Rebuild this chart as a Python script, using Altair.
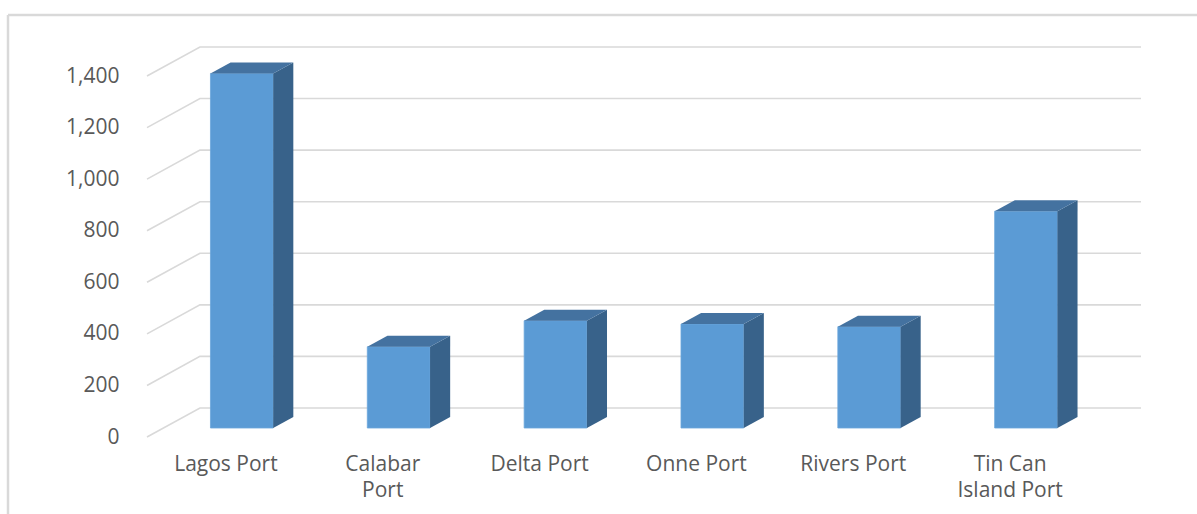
import json
import altair as alt
import pandas as pd

# ---------------- data ----------------
categories = ["Lagos Port", "Calabar Port", "Delta Port", "Onne Port", "Rivers Port", "Tin Can Island Port"]
label_lines = [["Lagos Port"], ["Calabar", "Port"], ["Delta Port"], ["Onne Port"], ["Rivers Port"], ["Tin Can", "Island Port"]]
values = [1375, 315, 416, 403, 393, 841]
y_ticks = [0, 200, 400, 600, 800, 1000, 1200, 1400]

# ---------------- 3D geometry (style constants) ----------------
N = len(categories)
DEPTH_X = 0.3376      # floor depth, in category units
DEPTH_Y = 112.5       # floor depth, in value units
BAR_W = 0.40          # bar width, share of a category band
T0, T1 = 0.31, 0.69   # front/back of the bar as share of floor depth
XMAX = N + DEPTH_X
YMAX = y_ticks[-1] + DEPTH_Y

FRONT = "#5b9bd5"
TOP = "#4472a0"
SIDE = "#38628a"
GRID = "#d9d9d9"
TEXT = "#595959"
FONT = "Open Sans"
FSIZE = 21

# ---------------- tables built from the arrays ----------------
ox0, oy0 = T0 * DEPTH_X, T0 * DEPTH_Y
ox1, oy1 = T1 * DEPTH_X, T1 * DEPTH_Y
ddx = ox1 - ox0

front_rows, side_rows, top_rows = [], [], []
for i, (c, v) in enumerate(zip(categories, values)):
    xl = i + 0.5 - BAR_W / 2 + ox0
    xr = i + 0.5 + BAR_W / 2 + ox0
    front_rows.append({"cat": c, "x": xl, "x2": xr, "y": oy0, "y2": v + oy0})
    side_rows += [
        {"cat": c, "x": xr, "y": v + oy0, "y2": oy0},
        {"cat": c, "x": xr + ddx, "y": v + oy1, "y2": oy1},
    ]
    top_rows += [
        {"cat": c, "x": xl, "y": v + oy0, "y2": v + oy0},
        {"cat": c, "x": xl + ddx, "y": v + oy1, "y2": v + oy0},
        {"cat": c, "x": xr, "y": v + oy1, "y2": v + oy0},
        {"cat": c, "x": xr + ddx, "y": v + oy1, "y2": v + oy1},
    ]

grid_rows = []
for t in y_ticks:
    grid_rows += [
        {"tick": t, "o": 0, "x": 0, "y": t},
        {"tick": t, "o": 1, "x": DEPTH_X, "y": t + DEPTH_Y},
        {"tick": t, "o": 2, "x": XMAX, "y": t + DEPTH_Y},
    ]

front_df = pd.DataFrame(front_rows)
side_df = pd.DataFrame(side_rows)
top_df = pd.DataFrame(top_rows)
grid_df = pd.DataFrame(grid_rows)

xscale = alt.Scale(domain=[0, XMAX], nice=False, zero=False)
yscale = alt.Scale(domain=[0, YMAX], nice=False, zero=False)

label_expr = json.dumps(label_lines) + "[floor(datum.value)]"

x_axis = alt.Axis(
    values=[i + 0.5 for i in range(N)], labelExpr=label_expr, title=None,
    domain=False, ticks=False, grid=False, labelFlush=False, labelOverlap=False,
    labelFont=FONT, labelFontSize=FSIZE, labelColor=TEXT, labelPadding=16,
    labelLineHeight=26, labelBaseline="top",
)
y_axis = alt.Axis(
    values=y_ticks, labelExpr="format(datum.value, ',.0f')", title=None,
    domain=False, ticks=False, grid=False, labelOverlap=False,
    labelFlush=False, labelFont=FONT, labelFontSize=FSIZE, labelColor=TEXT, labelPadding=28,
)

X = alt.X("x:Q", scale=xscale, axis=x_axis)
Y = alt.Y("y:Q", scale=yscale, axis=y_axis)

grid = alt.Chart(grid_df).mark_line(color=GRID, strokeWidth=1.6).encode(
    x=X, y=Y, detail="tick:N", order="o:Q",
)

front = alt.Chart(front_df).mark_rect(color=FRONT, stroke="#6aa6dc", strokeWidth=0.8).encode(
    x=X, x2="x2:Q", y=Y, y2="y2:Q",
)

side = alt.Chart(side_df).mark_area(color=SIDE, orient="vertical").encode(
    x=X, y=Y, y2="y2:Q", detail="cat:N",
)

top = alt.Chart(top_df).mark_area(color=TOP, orient="vertical").encode(
    x=X, y=Y, y2="y2:Q", detail="cat:N",
)

dummy = pd.DataFrame({"k": [0]})
frame_top = alt.Chart(dummy).mark_rule(color=GRID, strokeWidth=2.5).encode(
    x=alt.value(-139), x2=alt.value(1100), y=alt.value(-32)
)
frame_left = alt.Chart(dummy).mark_rule(color=GRID, strokeWidth=2.5).encode(
    x=alt.value(-139), y=alt.value(-32), y2=alt.value(520)
)

chart = alt.layer(frame_top, frame_left, grid, front, side, top).properties(
    width=994, height=390,
    autosize=alt.AutoSizeParams(type="none"),
    padding={"left": 147, "top": 47, "right": 56, "bottom": 77},
    background="white",
).configure_view(stroke=None)

chart.save("out.html", embed_options={"renderer": "svg", "actions": False})
